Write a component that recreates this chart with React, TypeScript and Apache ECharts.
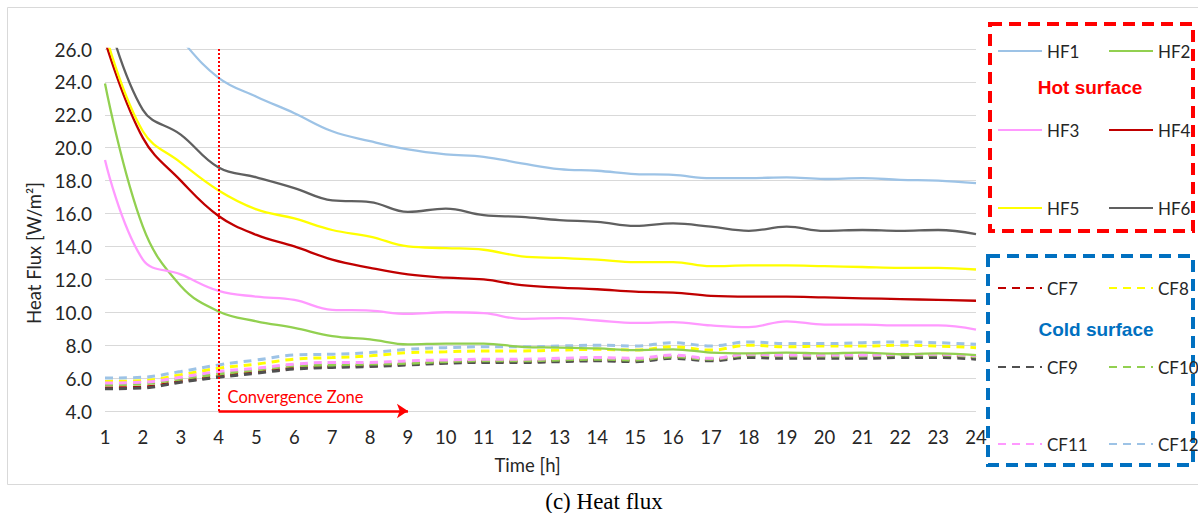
import React, { useEffect, useRef } from "react";
import * as echarts from "echarts";

// Time axis (hours)
const hours = [1, 2, 3, 4, 5, 6, 7, 8, 9, 10, 11, 12, 13, 14, 15, 16, 17, 18, 19, 20, 21, 22, 23, 24];
const yTicks = { min: 4, max: 26, step: 2 };

// Hot surface heat flux [W/m²]
const hf1 = [33.0, 29.5, 26.6, 24.25, 23.1, 22.1, 21.0, 20.4, 19.9, 19.6, 19.45, 19.05, 18.7, 18.6, 18.4, 18.35, 18.15, 18.15, 18.2, 18.1, 18.15, 18.05, 18.0, 17.85];
const hf2 = [23.9, 15.2, 11.6, 10.05, 9.45, 9.05, 8.55, 8.35, 8.05, 8.1, 8.1, 7.9, 7.85, 7.8, 7.7, 7.75, 7.55, 7.5, 7.55, 7.5, 7.55, 7.45, 7.5, 7.4];
const hf3 = [19.25, 13.2, 12.3, 11.3, 10.95, 10.75, 10.15, 10.1, 9.9, 10.0, 9.95, 9.6, 9.65, 9.5, 9.35, 9.4, 9.2, 9.1, 9.45, 9.25, 9.25, 9.2, 9.2, 8.95];
const hf4 = [26.5, 20.6, 18.0, 15.85, 14.7, 14.0, 13.2, 12.7, 12.3, 12.1, 12.0, 11.65, 11.5, 11.4, 11.25, 11.2, 11.0, 10.95, 10.95, 10.9, 10.85, 10.8, 10.75, 10.7];
const hf5 = [27.0, 21.0, 19.1, 17.4, 16.25, 15.7, 15.0, 14.6, 14.0, 13.9, 13.8, 13.4, 13.3, 13.2, 13.05, 13.05, 12.8, 12.85, 12.85, 12.8, 12.75, 12.7, 12.7, 12.6];
const hf6 = [28.5, 22.3, 20.8, 18.8, 18.2, 17.55, 16.8, 16.7, 16.1, 16.3, 15.9, 15.8, 15.6, 15.5, 15.25, 15.4, 15.2, 14.95, 15.2, 14.95, 15.0, 14.95, 15.0, 14.75];

// Cold surface heat flux [W/m²]
const cf7 = [5.4, 5.45, 5.8, 6.1, 6.35, 6.6, 6.7, 6.75, 6.85, 6.95, 7.0, 7.0, 7.05, 7.1, 7.05, 7.3, 7.1, 7.4, 7.35, 7.35, 7.35, 7.4, 7.4, 7.25];
const cf8 = [5.8, 5.85, 6.2, 6.6, 6.85, 7.15, 7.25, 7.35, 7.55, 7.6, 7.65, 7.65, 7.7, 7.75, 7.7, 7.9, 7.7, 8.0, 7.9, 7.95, 7.95, 8.0, 7.95, 7.85];
const cf9 = [5.35, 5.4, 5.75, 6.05, 6.3, 6.55, 6.65, 6.7, 6.8, 6.9, 6.95, 6.95, 7.0, 7.05, 7.0, 7.2, 7.05, 7.25, 7.2, 7.2, 7.2, 7.25, 7.25, 7.15];
const cf10 = [5.6, 5.65, 5.95, 6.25, 6.5, 6.75, 6.8, 6.85, 6.9, 7.0, 7.05, 7.05, 7.1, 7.15, 7.1, 7.3, 7.15, 7.4, 7.35, 7.35, 7.35, 7.4, 7.4, 7.3];
const cf11 = [5.7, 5.75, 6.05, 6.4, 6.6, 6.85, 6.95, 6.95, 7.05, 7.1, 7.15, 7.15, 7.2, 7.25, 7.2, 7.4, 7.2, 7.45, 7.4, 7.4, 7.4, 7.45, 7.45, 7.35];
const cf12 = [6.0, 6.05, 6.4, 6.8, 7.1, 7.4, 7.45, 7.55, 7.75, 7.85, 7.9, 7.9, 7.95, 8.0, 7.95, 8.15, 7.95, 8.2, 8.1, 8.1, 8.15, 8.2, 8.15, 8.05];

// Convergence zone: starts at hour 4, arrow runs to hour 9
const convergenceStart = 4;
const convergenceArrowEnd = 9;

const hotSeries = [
  { name: "HF1", values: hf1, color: "#9DC3E6" },
  { name: "HF2", values: hf2, color: "#92D050" },
  { name: "HF3", values: hf3, color: "#FF99FF" },
  { name: "HF4", values: hf4, color: "#C00000" },
  { name: "HF5", values: hf5, color: "#FFFF00" },
  { name: "HF6", values: hf6, color: "#606060" },
];

const coldSeries = [
  { name: "CF7", values: cf7, color: "#C00000" },
  { name: "CF8", values: cf8, color: "#FFFF00" },
  { name: "CF9", values: cf9, color: "#505050" },
  { name: "CF10", values: cf10, color: "#92D050" },
  { name: "CF11", values: cf11, color: "#FF99FF" },
  { name: "CF12", values: cf12, color: "#9DC3E6" },
];

const FONT = "Lato";
const TEXT = "#262626";

export default function App() {
  const ref = useRef<HTMLDivElement>(null);

  useEffect(() => {
    if (!ref.current) return;
    const chart = echarts.init(ref.current, null, { renderer: "svg" });

    const toPairs = (vals: number[]) => hours.map((h, i) => [h, vals[i]]);

    const series: any[] = [];
    hotSeries.forEach((s) => {
      series.push({
        name: s.name,
        type: "line",
        data: toPairs(s.values),
        smooth: 0.4,
        symbol: "none",
        clip: true,
        color: s.color,
        lineStyle: { color: s.color, width: 2.3, type: "solid" },
        z: 3,
      });
    });
    coldSeries.forEach((s) => {
      series.push({
        name: s.name,
        type: "line",
        data: toPairs(s.values),
        smooth: 0.4,
        symbol: "none",
        clip: true,
        color: s.color,
        lineStyle: { color: s.color, width: 3, type: [8, 6] },
        z: 2,
      });
    });

    // Convergence zone markers (dotted vertical line + arrow with label)
    series.push({
      name: "convergence",
      type: "line",
      data: [],
      symbol: "none",
      z: 5,
      markLine: {
        silent: true,
        animation: false,
        symbol: ["none", "none"],
        data: [
          {
            xAxis: convergenceStart,
            lineStyle: { color: "#FF0000", width: 2, type: [2, 2] },
            label: { show: false },
          },
          [
            {
              coord: [convergenceStart, yTicks.min],
              symbol: "none",
              lineStyle: { color: "#FF0000", width: 2.5, type: "solid" },
              label: {
                show: true,
                formatter: "Convergence Zone",
                position: "insideStartTop",
                distance: [9, 6],
                color: "#FF0000",
                fontFamily: FONT,
                fontSize: 16.5,
              },
            },
            { coord: [convergenceArrowEnd, yTicks.min], symbol: "arrow", symbolSize: 11 },
          ],
        ],
      },
    });

    const legendRows = [
      { names: ["HF1", "HF2"], y: 51 },
      { names: ["HF3", "HF4"], y: 130 },
      { names: ["HF5", "HF6"], y: 208 },
      { names: ["CF7", "CF8"], y: 288 },
      { names: ["CF9", "CF10"], y: 367 },
      { names: ["CF11", "CF12"], y: 444 },
    ];
    const legendCols = [997, 1108];
    const legends: any[] = [];
    legendRows.forEach((row) => {
      row.names.forEach((n, ci) => {
        legends.push({
          data: [n],
          left: legendCols[ci],
          top: row.y - 9,
          padding: 0,
          itemWidth: 44,
          itemHeight: 12,
          itemGap: 0,
          selectedMode: false,
          itemStyle: { opacity: 0 },
          textStyle: { fontFamily: FONT, fontSize: 17, color: TEXT, lineHeight: 18 },
        });
      });
    });

    chart.setOption({
      animation: false,
      backgroundColor: "#ffffff",
      grid: { left: 105, right: 222, top: 49, bottom: 102, containLabel: false },
      xAxis: {
        type: "value",
        min: 1,
        max: 24,
        interval: 1,
        name: "Time [h]",
        nameLocation: "middle",
        nameGap: 44,
        nameTextStyle: { fontFamily: FONT, fontSize: 18.5, color: TEXT, padding: [0, 26, 0, 0] },
        axisLine: { show: false },
        axisTick: { show: false },
        splitLine: { show: false },
        axisLabel: { fontFamily: FONT, fontSize: 18.5, color: TEXT, margin: 16 },
      },
      yAxis: {
        type: "value",
        min: yTicks.min,
        max: yTicks.max,
        interval: yTicks.step,
        name: "Heat Flux [W/m²]",
        nameLocation: "middle",
        nameGap: 62,
        nameTextStyle: { fontFamily: FONT, fontSize: 18.5, color: TEXT, padding: [0, 46, 0, 0] },
        axisLine: { show: false },
        axisTick: { show: false },
        splitLine: { lineStyle: { color: "#d9d9d9", width: 1 } },
        axisLabel: {
          fontFamily: FONT,
          fontSize: 19,
          color: TEXT,
          margin: 13,
          formatter: (v: number) => v.toFixed(1),
        },
      },
      legend: legends,
      series,
      graphic: [
        {
          type: "rect",
          shape: { x: 7.5, y: 7.5, width: 1200, height: 477 },
          style: { fill: "none", stroke: "#d9d9d9", lineWidth: 1 },
          silent: true,
          z: -1,
        },
        {
          type: "rect",
          shape: { x: 990, y: 24, width: 203, height: 207 },
          style: { fill: "none", stroke: "#FF0000", lineWidth: 4, lineDash: [12, 7] },
          silent: true,
        },
        {
          type: "rect",
          shape: { x: 988, y: 256, width: 205, height: 209 },
          style: { fill: "none", stroke: "#0070C0", lineWidth: 4, lineDash: [12, 7] },
          silent: true,
        },
        {
          type: "text",
          x: 1090,
          y: 87,
          style: {
            text: "Hot surface",
            fill: "#FF0000",
            fontFamily: "Liberation Sans",
            fontWeight: "bold",
            fontSize: 19,
            textAlign: "center",
            textVerticalAlign: "middle",
          },
          silent: true,
        },
        {
          type: "text",
          x: 1096,
          y: 329,
          style: {
            text: "Cold surface",
            fill: "#0070C0",
            fontFamily: "Liberation Sans",
            fontWeight: "bold",
            fontSize: 19,
            textAlign: "center",
            textVerticalAlign: "middle",
          },
          silent: true,
        },
        {
          type: "text",
          x: 604,
          y: 501,
          style: {
            text: "(c) Heat flux",
            fill: "#000000",
            fontFamily: "Liberation Serif",
            fontSize: 23,
            textAlign: "center",
            textVerticalAlign: "middle",
          },
          silent: true,
        },
      ],
    });

    return () => chart.dispose();
  }, []);

  return (
    <div
      ref={ref}
      style={{ position: "absolute", left: 0, top: 0, width: 1198, height: 513 }}
    />
  );
}
